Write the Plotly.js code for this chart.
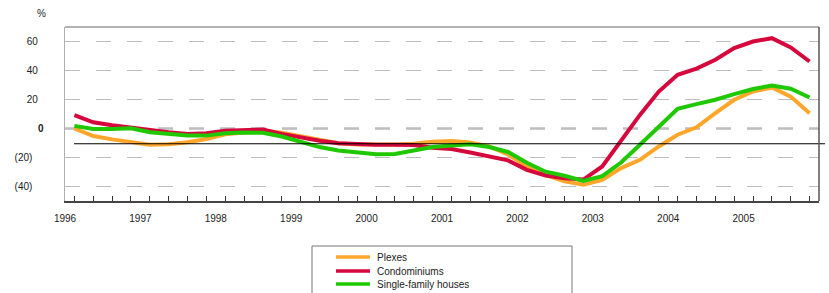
<!DOCTYPE html>
<html>
<head>
<meta charset="utf-8">
<script src="https://cdn.plot.ly/plotly-3.0.1.min.js"></script>
<style>html,body{margin:0;padding:0;background:#fff;}#chart{width:829px;height:293px;}</style>
</head>
<body>
<div id="chart"></div>
<script>
// ---- data ----
const years = [1996, 1997, 1998, 1999, 2000, 2001, 2002, 2003, 2004, 2005];
const quarters = [];
years.forEach(y => { for (let q = 1; q <= 4; q++) quarters.push(y + ' Q' + q); });

const seriesNames = ['Plexes', 'Condominiums', 'Single-family houses'];
const plexes = [0, -5.2, -7.5, -9.4, -11.2, -10.8, -9.5, -7.2, -4.0, -2.7,
  -1.5, -3.0, -5.5, -8.3, -10.1, -11.0, -11.2, -11.0, -10.5, -9.2,
  -8.7, -9.6, -12.4, -17.8, -26.2, -32.2, -36.5, -38.8, -35.5, -27.3,
  -21.6, -12.4, -4.3, 0.8, 10.6, 19.8, 25.5, 28.3, 22.0, 10.6];
const condominiums = [9.2, 4.3, 2.3, 0.7, -1.5, -2.5, -3.8, -3.3, -1.6, -1.0,
  -0.7, -3.7, -6.2, -8.5, -10.1, -10.8, -11.2, -11.2, -11.4, -13.3,
  -14.2, -16.5, -19.3, -22.0, -28.5, -32.4, -34.4, -35.2, -26.2, -8.5,
  9.4, 25.5, 37.0, 41.3, 47.4, 55.4, 60.0, 62.3, 55.9, 46.2];
const singleFamily = [1.8, -0.4, -0.3, 0.1, -2.6, -3.5, -4.8, -4.9, -3.3, -2.7,
  -3.0, -5.5, -9.2, -12.8, -15.2, -16.5, -17.7, -17.5, -15.2, -12.8,
  -11.7, -10.8, -12.8, -16.2, -23.6, -29.8, -32.6, -36.2, -32.8, -23.5,
  -11.2, 1.4, 13.6, 16.8, 19.8, 23.7, 27.2, 29.7, 27.4, 21.4];
const referenceLevel = -10.5;
const yTickVals = [60, 40, 20, 0, -20, -40];
const yTickText = ['60\u00a0\u00a0', '40\u00a0\u00a0', '20\u00a0\u00a0', '<b>0</b>', '(20)\u00a0\u00a0\u00a0\u00a0', '(40)\u00a0\u00a0\u00a0\u00a0'];

// ---- derived ----
const xq = quarters.map(s => { const [y, q] = s.split(' Q'); return +y + (+q - 0.5) / 4; });
const colors = ['#FFA62B', '#D6073C', '#1FC800'];
const values = [plexes, condominiums, singleFamily];
const FONT = 'Liberation Sans, Arial, sans-serif';

const traces = values.map((v, k) => ({
  type: 'scatter', mode: 'lines', x: xq, y: v, name: seriesNames[k],
  line: {color: colors[k], width: 4}, xaxis: 'x', yaxis: 'y',
  hoverinfo: 'skip', showlegend: false
}));
// invisible trace to activate year-label axis
traces.push({type: 'scatter', mode: 'lines', x: [years[0]], y: [null], xaxis: 'x2', yaxis: 'y', showlegend: false, hoverinfo: 'skip'});

const W = 829, H = 293, L = 65, R = 819, T = 27, B = 201;
const px = p => (p - L) / (R - L);
const py = p => (B - p) / (B - T);

const shapes = [
  {type: 'line', xref: 'paper', yref: 'y', x0: 0, x1: 1, y0: 0, y1: 0, line: {color: '#999', width: 2, dash: '15px,16px'}, layer: 'below'},
  {type: 'line', xref: 'paper', yref: 'y', x0: px(74), x1: px(825), y0: referenceLevel, y1: referenceLevel, line: {color: '#000', width: 1.2}},
  {type: 'line', xref: 'paper', yref: 'paper', x0: 0, x1: 1, y0: 1, y1: 1, line: {color: '#999', width: 1.5}},
  {type: 'line', xref: 'paper', yref: 'paper', x0: 1, x1: 1, y0: 0, y1: 1, line: {color: '#555', width: 1.5}},
  {type: 'rect', xref: 'paper', yref: 'paper', x0: px(312), x1: px(572), y0: py(246), y1: py(310), line: {color: '#777', width: 1}}
];
const annotations = [
  {xref: 'paper', yref: 'paper', x: px(41), y: py(6), xanchor: 'center', yanchor: 'top', text: '%', showarrow: false, font: {family: FONT, size: 10, color: '#222'}}
];
const legendY = [257, 271, 284];
seriesNames.forEach((n, k) => {
  shapes.push({type: 'line', xref: 'paper', yref: 'paper', x0: px(336), x1: px(370), y0: py(legendY[k]), y1: py(legendY[k]), line: {color: colors[k], width: 3.5}});
  annotations.push({xref: 'paper', yref: 'paper', x: px(375), y: py(legendY[k]), xanchor: 'left', yanchor: 'middle', text: n, showarrow: false, font: {family: FONT, size: 10, color: '#222'}});
});

const layout = {
  width: W, height: H,
  margin: {l: L, r: W - R, t: T, b: H - B, pad: 0},
  paper_bgcolor: '#fff', plot_bgcolor: '#fff',
  showlegend: false,
  font: {family: FONT, size: 10, color: '#222'},
  xaxis: {
    range: [1996, 2006], tickvals: xq, showticklabels: false,
    ticks: 'inside', ticklen: 5, tickwidth: 1, tickcolor: '#333',
    showgrid: false, zeroline: false,
    showline: true, linecolor: '#444', linewidth: 1.5, fixedrange: true
  },
  xaxis2: {
    overlaying: 'x', side: 'bottom', anchor: 'y', range: [1996, 2006],
    tickvals: years, ticktext: years.map(String), ticks: '',
    showgrid: false, zeroline: false, showline: false,
    tickfont: {family: FONT, size: 10, color: '#222'}, ticklabelstandoff: 10
  },
  yaxis: {
    range: [-50, 70], tickvals: yTickVals, ticktext: yTickText, ticks: '',
    showgrid: true, gridcolor: '#bdbdbd', gridwidth: 1.5, griddash: '15px,16px',
    zeroline: false, showline: true, linecolor: '#b0b0b0', linewidth: 1.5,
    tickfont: {family: FONT, size: 10, color: '#222'}, ticklabelstandoff: 18, fixedrange: true
  },
  shapes: shapes,
  annotations: annotations
};
Plotly.newPlot('chart', traces, layout, {staticPlot: true, displayModeBar: false});
</script>
</body>
</html>
